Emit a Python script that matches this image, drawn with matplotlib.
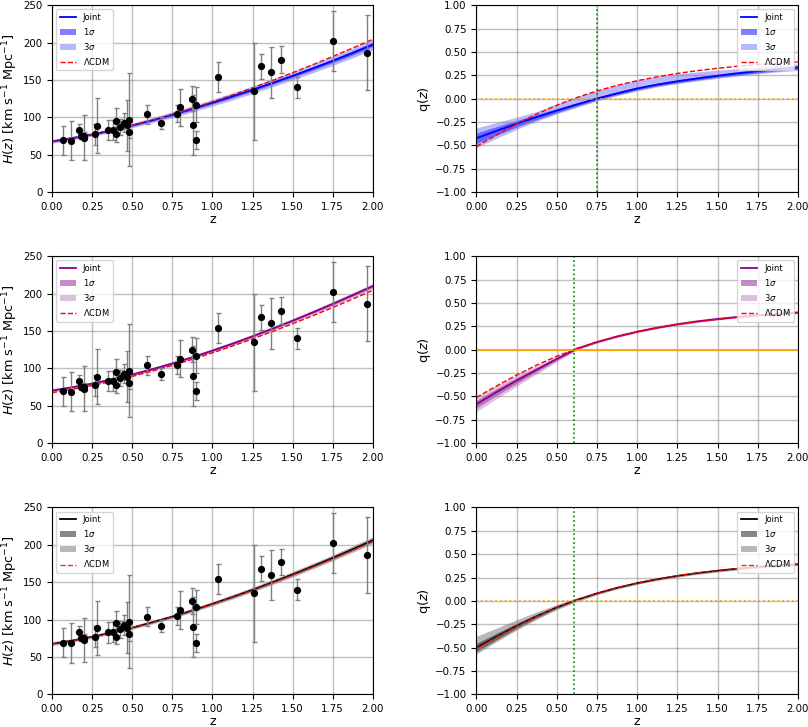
import matplotlib.pyplot as plt
from matplotlib.patches import Patch
from matplotlib.lines import Line2D

# cosmic chronometer H(z) points
zData = [0.07, 0.12, 0.17, 0.179, 0.199, 0.2, 0.27, 0.28, 0.352, 0.3802, 0.4, 0.4004,
         0.4247, 0.4497, 0.47, 0.4783, 0.48, 0.593, 0.68, 0.781, 0.8, 0.875, 0.88,
         0.9, 0.9, 1.037, 1.26, 1.3, 1.363, 1.43, 1.53, 1.75, 1.965]
HData = [69, 68.6, 83, 75, 75, 72.9, 77, 88.8, 83, 83, 95, 77, 87.1, 92.8, 89, 80.9, 97,
         104, 92, 105, 113.1, 125, 90, 117, 69, 154, 135, 168, 160, 177, 140, 202, 186.5]
HErr = [19.6, 26.2, 8, 4, 5, 29.6, 14, 36.6, 14, 13.5, 17, 10.2, 11.2, 12.9, 34, 9, 62,
        13, 8, 12, 25.2, 17, 40, 23, 12, 20, 65, 17, 33.6, 18, 14, 40, 50.4]

zGrid = [0.0, 0.125, 0.25, 0.375, 0.5, 0.625, 0.75, 0.875, 1.0,
         1.125, 1.25, 1.375, 1.5, 1.625, 1.75, 1.875, 2.0]

HLcdm = [67.4, 71.8, 76.9, 82.7, 89.1, 96.2, 103.8, 112.0, 120.7,
         129.8, 139.3, 149.3, 159.6, 170.3, 181.3, 192.7, 204.3]
qLcdm = [-0.512, -0.390, -0.273, -0.166, -0.071, 0.011, 0.081, 0.141, 0.191,
         0.233, 0.269, 0.299, 0.324, 0.346, 0.364, 0.379, 0.393]

# row 1 (blue)
HJoint1 = [67.7, 72.1, 77.0, 82.6, 89.1, 96.0, 103.4, 111.3, 119.5,
           128.0, 136.8, 146.0, 155.4, 165.3, 175.5, 186.2, 197.3]
HSig1_1 = [1.0, 1.0, 1.0, 1.1, 1.2, 1.4, 1.6, 1.7, 1.8, 1.9, 2.0, 2.1, 2.2, 2.3, 2.5, 2.7, 2.9]
HSig3_1 = [2.5, 2.5, 2.5, 2.8, 3.0, 3.5, 4.0, 4.2, 4.5, 4.8, 5.0, 5.2, 5.5, 5.8, 6.2, 6.6, 7.0]
qJoint1 = [-0.425, -0.346, -0.270, -0.198, -0.129, -0.063, 0.0, 0.056, 0.108,
           0.150, 0.185, 0.216, 0.244, 0.270, 0.294, 0.315, 0.333]
qSig1_1 = [0.055, 0.045, 0.035, 0.028, 0.022, 0.018, 0.015, 0.015, 0.015,
           0.015, 0.016, 0.016, 0.017, 0.018, 0.018, 0.019, 0.02]
qSig3Up1 = [0.11, 0.09, 0.07, 0.06, 0.07, 0.08, 0.085, 0.09, 0.09,
            0.085, 0.08, 0.07, 0.06, 0.05, 0.045, 0.04, 0.035]
qSig3Dn1 = [0.10, 0.08, 0.06, 0.045, 0.035, 0.03, 0.025, 0.025, 0.025,
            0.025, 0.025, 0.026, 0.027, 0.028, 0.028, 0.029, 0.03]

# row 2 (purple)
HJoint2 = [70.3, 74.6, 79.6, 85.3, 91.7, 98.8, 106.5, 114.8, 123.7,
           133.0, 142.8, 153.1, 163.7, 174.8, 186.2, 198.0, 210.0]
HSig1_2 = [0.9, 0.9, 0.9, 0.9, 0.9, 1.0, 1.0, 1.1, 1.1, 1.2, 1.2, 1.3, 1.3, 1.4, 1.5, 1.6, 1.7]
HSig3_2 = [2.0, 2.0, 2.0, 2.0, 2.0, 2.1, 2.2, 2.3, 2.4, 2.5, 2.6, 2.7, 2.8, 3.0, 3.2, 3.4, 3.6]
qJoint2 = [-0.585, -0.455, -0.332, -0.215, -0.100, 0.010, 0.081, 0.141, 0.192,
           0.235, 0.272, 0.303, 0.328, 0.350, 0.369, 0.385, 0.398]
qSig1_2 = [0.04, 0.035, 0.03, 0.022, 0.015, 0.008, 0.006, 0.006, 0.006,
           0.006, 0.006, 0.006, 0.006, 0.006, 0.006, 0.006, 0.006]
qSig3_2 = [0.08, 0.07, 0.06, 0.045, 0.03, 0.016, 0.012, 0.012, 0.012,
           0.012, 0.012, 0.012, 0.012, 0.012, 0.012, 0.012, 0.012]

# row 3 (grey)
HJoint3 = [67.6, 72.0, 77.1, 82.9, 89.3, 96.5, 104.1, 112.4, 121.2,
           130.4, 140.0, 150.2, 160.6, 171.5, 182.7, 194.4, 206.3]
HSig1_3 = [1.0, 1.0, 1.0, 1.0, 1.1, 1.1, 1.2, 1.2, 1.3, 1.3, 1.4, 1.5, 1.6, 1.7, 1.8, 1.9, 2.0]
HSig3_3 = [2.5, 2.4, 2.3, 2.3, 2.3, 2.4, 2.5, 2.6, 2.8, 3.0, 3.2, 3.4, 3.6, 3.8, 4.0, 4.3, 4.6]
qJoint3 = [-0.500, -0.382, -0.268, -0.163, -0.069, 0.012, 0.081, 0.141, 0.191,
           0.233, 0.269, 0.299, 0.324, 0.346, 0.364, 0.379, 0.393]
qSig1_3 = [0.045, 0.035, 0.028, 0.02, 0.014, 0.008, 0.008, 0.008, 0.008,
           0.008, 0.008, 0.008, 0.008, 0.008, 0.008, 0.008, 0.008]
qSig3Up3 = [0.12, 0.09, 0.065, 0.045, 0.03, 0.02, 0.015, 0.015, 0.015,
            0.015, 0.015, 0.015, 0.015, 0.015, 0.015, 0.015, 0.015]
qSig3Dn3 = [0.07, 0.055, 0.045, 0.035, 0.025, 0.02, 0.015, 0.015, 0.015,
            0.015, 0.015, 0.015, 0.015, 0.015, 0.015, 0.015, 0.015]

zTransition = [0.75, 0.605, 0.605]

rows = [
    dict(H=HJoint1, Hs1=HSig1_1, Hs3=HSig3_1, q=qJoint1, qs1=qSig1_1, qUp=qSig3Up1, qDn=qSig3Dn1,
         line="blue", band="blue", a1=0.45, a3=0.28, ls0=":", lcdmAlpha=1.0, lw=1.3),
    dict(H=HJoint2, Hs1=HSig1_2, Hs3=HSig3_2, q=qJoint2, qs1=qSig1_2, qUp=qSig3_2, qDn=qSig3_2,
         line="darkmagenta", band="purple", a1=0.4, a3=0.25, ls0="-", lcdmAlpha=1.0, lw=1.3),
    dict(H=HJoint3, Hs1=HSig1_3, Hs3=HSig3_3, q=qJoint3, qs1=qSig1_3, qUp=qSig3Up3, qDn=qSig3Dn3,
         line="black", band="black", a1=0.42, a3=0.28, ls0=":", lcdmAlpha=0.85, lw=1.0),
]

tickSize = 7.4
labelSize = 9.3
legendSize = 6

fig = plt.figure(figsize=(8.08, 7.27), dpi=100)
rowBottoms = [0.7359, 0.3906, 0.0450]
axHeight = 0.257
xTicks = [0, 0.25, 0.5, 0.75, 1.0, 1.25, 1.5, 1.75, 2.0]


def makeLegend(ax, r, loc):
    handles = [Line2D([], [], color=r["line"], lw=1.3),
               Patch(color=r["band"], alpha=r["a1"] + 0.05, lw=0),
               Patch(color=r["band"], alpha=r["a3"], lw=0),
               Line2D([], [], color="red", ls="--", lw=1, alpha=r["lcdmAlpha"])]
    ax.legend(handles, ["Joint", r"1$\sigma$", r"3$\sigma$", r"$\Lambda$CDM"],
              loc=loc, fontsize=legendSize)


for i, r in enumerate(rows):
    b = rowBottoms[i]
    axH = fig.add_axes([0.0644, b, 0.397, axHeight])
    axQ = fig.add_axes([0.5895, b, 0.398, axHeight])

    # H(z) panel
    lo3 = [h - s for h, s in zip(r["H"], r["Hs3"])]
    hi3 = [h + s for h, s in zip(r["H"], r["Hs3"])]
    lo1 = [h - s for h, s in zip(r["H"], r["Hs1"])]
    hi1 = [h + s for h, s in zip(r["H"], r["Hs1"])]
    axH.fill_between(zGrid, lo3, hi3, color=r["band"], alpha=r["a3"], lw=0)
    axH.fill_between(zGrid, lo1, hi1, color=r["band"], alpha=r["a1"], lw=0)
    axH.plot(zGrid, r["H"], color=r["line"], lw=r["lw"])
    axH.plot(zGrid, HLcdm, color="red", ls="--", lw=1, alpha=r["lcdmAlpha"])
    axH.errorbar(zData, HData, yerr=HErr, fmt="o", color="black", ms=4.2,
                 ecolor="gray", elinewidth=1, capsize=1.8, zorder=3)
    axH.set_xlim(0, 2)
    axH.set_ylim(0, 250)
    axH.set_xticks(xTicks)
    axH.set_xticklabels(["%.2f" % t for t in xTicks])
    axH.set_yticks([0, 50, 100, 150, 200, 250])
    axH.tick_params(labelsize=tickSize)
    axH.grid(True, color="gray", alpha=0.5, lw=1)
    axH.set_xlabel("z", fontsize=labelSize, labelpad=1)
    axH.set_ylabel(r"$H(z)$ [km s$^{-1}$ Mpc$^{-1}$]", fontsize=labelSize, labelpad=2)
    makeLegend(axH, r, "upper left")

    # q(z) panel
    qlo3 = [q - s for q, s in zip(r["q"], r["qDn"])]
    qhi3 = [q + s for q, s in zip(r["q"], r["qUp"])]
    qlo1 = [q - s for q, s in zip(r["q"], r["qs1"])]
    qhi1 = [q + s for q, s in zip(r["q"], r["qs1"])]
    axQ.fill_between(zGrid, qlo3, qhi3, color=r["band"], alpha=r["a3"], lw=0)
    axQ.fill_between(zGrid, qlo1, qhi1, color=r["band"], alpha=r["a1"], lw=0)
    axQ.plot(zGrid, r["q"], color=r["line"], lw=r["lw"])
    axQ.plot(zGrid, qLcdm, color="red", ls="--", lw=1, alpha=r["lcdmAlpha"])
    axQ.axhline(0, color="orange", ls=r["ls0"], lw=1.3)
    axQ.axvline(zTransition[i], color="green", ls=":", lw=1.2)
    axQ.set_xlim(0, 2)
    axQ.set_ylim(-1, 1)
    axQ.set_xticks(xTicks)
    axQ.set_xticklabels(["%.2f" % t for t in xTicks])
    qTicks = [-1, -0.75, -0.5, -0.25, 0, 0.25, 0.5, 0.75, 1.0]
    axQ.set_yticks(qTicks)
    axQ.set_yticklabels(["%.2f" % t if t >= 0 else "\u2212%.2f" % -t for t in qTicks])
    axQ.tick_params(labelsize=tickSize)
    axQ.grid(True, color="gray", alpha=0.5, lw=1)
    axQ.set_xlabel("z", fontsize=labelSize, labelpad=1)
    axQ.set_ylabel(r"q$(z)$", fontsize=labelSize, labelpad=2)
    makeLegend(axQ, r, "upper right")

fig.savefig("out.png", dpi=100)
